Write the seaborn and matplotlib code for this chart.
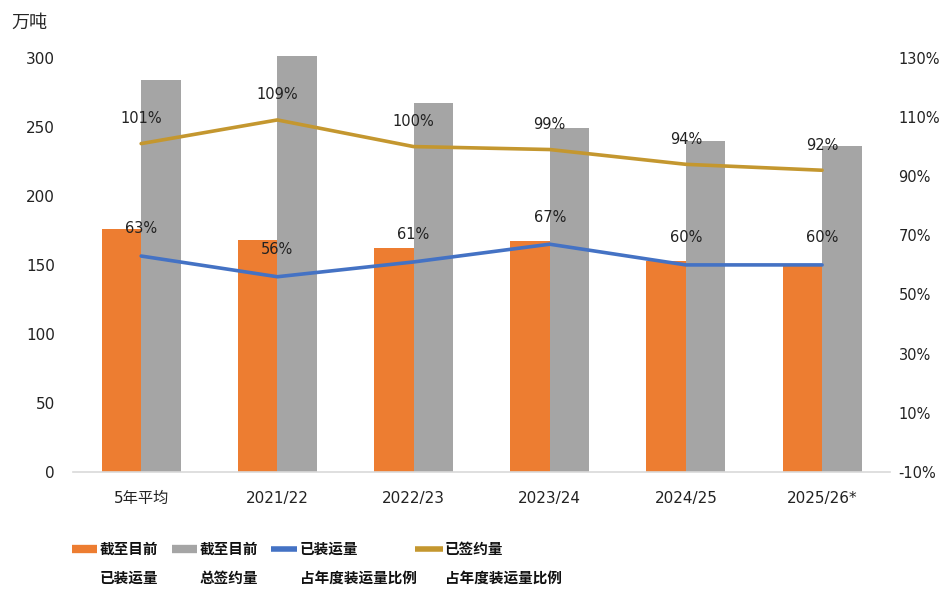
import matplotlib
matplotlib.use('Agg')
import matplotlib.pyplot as plt
import seaborn as sns
import numpy as np
import pandas as pd
from matplotlib.lines import Line2D

# chart data
seasons = ['5年平均', '2021/22', '2022/23', '2023/24', '2024/25', '2025/26*']
shipped = [176, 168, 162, 167, 152.5, 151]        # 截至目前已装运量 (万吨)
signed = [284, 301, 267.5, 249, 240, 236]          # 截至目前总签约量 (万吨)
shipped_ratio = [63, 56, 61, 67, 60, 60]           # 已装运量占年度装运量比例 (%)
signed_ratio = [101, 109, 100, 99, 94, 92]         # 已签约量占年度装运量比例 (%)

legend_labels = [('截至目前', '已装运量'), ('截至目前', '总签约量'),
                 ('已装运量', '占年度装运量比例'), ('已签约量', '占年度装运量比例')]

colors = {'orange': '#ED7D31', 'gray': '#A5A5A5', 'blue': '#4472C4', 'gold': '#C4972F'}

sns.set_style('white')
plt.rcParams['font.family'] = ['DejaVu Sans', 'Noto Sans CJK SC']

bars = pd.DataFrame({
    'season': seasons * 2,
    'value': shipped + signed,
    'series': ['shipped'] * len(seasons) + ['signed'] * len(seasons),
})
lines = pd.DataFrame({'pos': np.arange(len(seasons)),
                      'shipped_ratio': shipped_ratio,
                      'signed_ratio': signed_ratio})

fig = plt.figure(figsize=(9.49, 5.90), dpi=100)
ax = fig.add_axes([0.077, 0.2, 0.861, 0.702])

sns.barplot(data=bars, x='season', y='value', hue='series',
            palette=[colors['orange'], colors['gray']], width=0.58,
            saturation=1, linewidth=0, legend=False, ax=ax)
for p in ax.patches:
    p.set_clip_on(False)

ax.set_ylim(0, 300)
ax.set_yticks(range(0, 301, 50))
ax.set_xlim(-0.5, 5.5)
ax.set_xlabel('')
ax.set_ylabel('')
ax.tick_params(axis='both', length=0, labelsize=11, colors='#222222')
ax.tick_params(axis='x', pad=14)
ax.tick_params(axis='y', pad=13)
for s in ['top', 'left', 'right']:
    ax.spines[s].set_visible(False)
ax.spines['bottom'].set_color('#D9D9D9')
ax.spines['bottom'].set_linewidth(1.2)

ax2 = ax.twinx()
sns.lineplot(data=lines, x='pos', y='shipped_ratio', color=colors['blue'],
             linewidth=2.6, ax=ax2)
sns.lineplot(data=lines, x='pos', y='signed_ratio', color=colors['gold'],
             linewidth=2.6, ax=ax2)
ax2.set_ylim(-10, 130)
ax2.set_yticks(range(-10, 131, 20))
ax2.set_yticklabels([f'{t}%' for t in range(-10, 131, 20)])
ax2.set_xlim(-0.5, 5.5)
ax2.set_xlabel('')
ax2.set_ylabel('')
ax2.tick_params(axis='y', length=0, labelsize=10.5, colors='#222222', pad=6)
for s in ['top', 'left', 'right', 'bottom']:
    ax2.spines[s].set_visible(False)

for x, v in zip(lines['pos'], shipped_ratio):
    ax2.annotate(f'{v}%', (x, v), xytext=(0, 19.5), textcoords='offset points',
                 ha='center', va='center', fontsize=10.5, color='#222222')
for x, v in zip(lines['pos'], signed_ratio):
    ax2.annotate(f'{v}%', (x, v), xytext=(0, 18), textcoords='offset points',
                 ha='center', va='center', fontsize=10.5, color='#222222')

fig.text(0.012, 0.962, '万吨', fontsize=13, va='center', ha='left',
         family=['Noto Sans CJK SC', 'DejaVu Sans'])

# legend drawn by hand so the key lines up with the first text line
W, H = 949, 590
key_x = [(72, 97), (172, 197), (271, 297), (415, 443)]
text_x = [100, 200, 300, 445]
key_colors = [colors['orange'], colors['gray'], colors['blue'], colors['gold']]
key_lw = [6, 6, 4, 4]
y1, y2 = 1 - 549 / H, 1 - 578 / H
for (a, b), tx, c, lw, (l1, l2) in zip(key_x, text_x, key_colors, key_lw, legend_labels):
    fig.add_artist(Line2D([a / W, b / W], [y1, y1], color=c, lw=lw,
                          solid_capstyle='butt', transform=fig.transFigure))
    for yy, s in ((y1, l1), (y2, l2)):
        fig.text(tx / W, yy, s, fontsize=10.5, fontweight='bold', va='center',
                 ha='left', color='#111111', family=['Noto Sans CJK SC'])

fig.savefig('out.png', dpi=100)
